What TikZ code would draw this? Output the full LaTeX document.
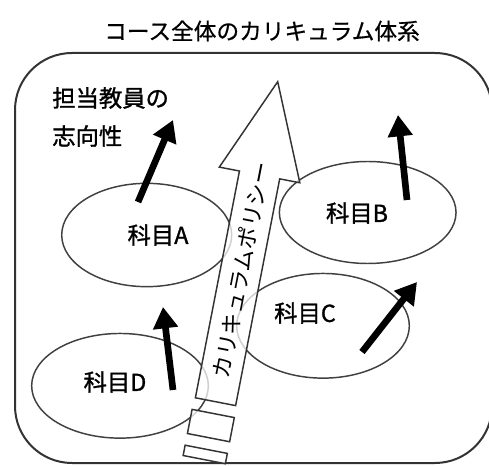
\documentclass[tikz,border=0pt]{standalone}
\usepackage{fontspec}
\newfontfamily\jp{Noto Sans CJK JP}
\newfontfamily\jpb[FakeBold=1.2]{Noto Sans CJK JP}
\newfontfamily\jpm[FakeBold=0.6]{Noto Sans CJK JP}
\usetikzlibrary{arrows.meta,shapes.geometric}
\begin{document}
\begin{tikzpicture}[x=0.75pt,y=-0.75pt,
  frame/.style={draw=black!80,line width=1.5pt,rounded corners=42.75pt},
  subj/.style={ellipse,draw=black!75,line width=1.1pt,inner sep=0pt},
  lbl/.style={font=\jpb\fontsize{17.5pt}{20pt}\selectfont,inner sep=0pt},
  ttl/.style={font=\jpm\fontsize{17pt}{20pt}\selectfont,inner sep=0pt},
  orient/.style={line width=5pt,black,-{Triangle[width=18pt,length=16pt]}},
  blockarrow/.style={draw=black!80,line width=1.1pt,fill=white,fill opacity=0.75}]
\useasboundingbox (0,0) rectangle (489,466);
\clip (0,0) rectangle (489,466);
% title
\node[ttl] (title) at (262,31) {コース全体のカリキュラム体系};
% frame
\draw[frame] (15,53) rectangle (492,463);
% subjects
\node[subj,minimum width=127.5pt,minimum height=77.5pt] (eA) at (146.7,235) {};
\node[subj,minimum width=132.5pt,minimum height=76.5pt] (eB) at (367.7,212.5) {};
\node[subj,minimum width=129.5pt,minimum height=78.5pt] (eC) at (323,325.8) {};
\node[subj,minimum width=132.5pt,minimum height=78.5pt] (eD) at (120,385.8) {};
\node[lbl] (lA) at (158,235) {科目A};
\node[lbl] (lB) at (357,213) {科目B};
\node[lbl] (lC) at (305,313) {科目C};
\node[lbl] (lD) at (115,382) {科目D};
% orientation label
\node[lbl,anchor=west] (t1) at (52,98) {担当教員の};
\node[lbl,anchor=west] (t2) at (52,136) {志向性};
% orientation arrows
\coordinate (aA1) at (138,202); \coordinate (aA2) at (173,120);
\coordinate (aB1) at (407,200); \coordinate (aB2) at (398,115);
\coordinate (aC1) at (362,352); \coordinate (aC2) at (417,282);
\coordinate (aD1) at (173,390); \coordinate (aD2) at (163,307);
\draw[orient] (aA1) -- (aA2);
\draw[orient] (aB1) -- (aB2);
\draw[orient] (aC1) -- (aC2);
\draw[orient] (aD1) -- (aD2);
% curriculum policy block arrow
\begin{scope}[shift={(215.5,401.7)},rotate=79]
  \draw[blockarrow] (0,-20.5) -- (231,-20.5) -- (231,-41) -- (326,0)
     -- (231,41) -- (231,20.5) -- (0,20.5) -- cycle;
  \draw[blockarrow] (-36.6,-21.5) rectangle (-12,21.5);
  \draw[blockarrow] (-59,-21.5) rectangle (-48.5,21.5);
  \node[font=\jp\fontsize{16.5pt}{18pt}\selectfont,inner sep=0pt,rotate=79] (policy) at (134,0) {カリキュラムポリシー};
\end{scope}
\end{tikzpicture}
\end{document}
